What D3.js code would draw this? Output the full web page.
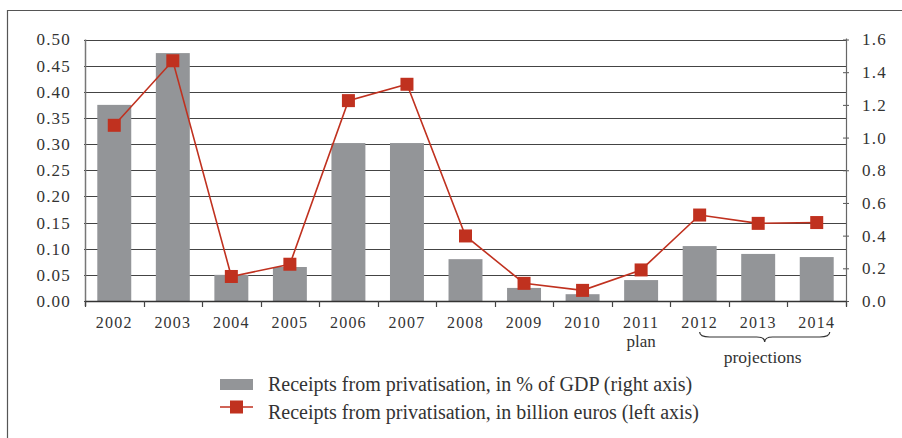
<!DOCTYPE html>
<html>
<head>
<meta charset="utf-8">
<script src="https://cdn.jsdelivr.net/npm/d3@7"></script>
<style>
  body { margin: 0; background: #fff; }
  text { font-family: "Liberation Serif", "DejaVu Serif", serif; fill: #333; }
</style>
</head>
<body>
<div id="chart-area"></div>
<script>
// Data
let years = ["2002", "2003", "2004", "2005", "2006", "2007", "2008", "2009", "2010", "2011", "2012", "2013", "2014"];
let pctGdp = [0.375, 0.474, 0.05, 0.065, 0.302, 0.302, 0.08, 0.025, 0.013, 0.04, 0.105, 0.09, 0.084];
let billionEur = [1.075, 1.47, 0.15, 0.225, 1.226, 1.326, 0.398, 0.108, 0.065, 0.19, 0.526, 0.475, 0.48];
let subLabels = { "2011": "plan" };
let projYears = ["2012", "2014"];
let leftTicks = [0, 0.05, 0.1, 0.15, 0.2, 0.25, 0.3, 0.35, 0.4, 0.45, 0.5];
let rightTicks = [0, 0.2, 0.4, 0.6, 0.8, 1.0, 1.2, 1.4, 1.6];
let legendLabels = [
  "Receipts from privatisation, in % of GDP (right axis)",
  "Receipts from privatisation, in billion euros (left axis)"
];

// SVG container
let W = 902, H = 438;
let margin = { top: 39.5, right: 56, bottom: 137, left: 85 };
let pLeft = margin.left, pRight = W - margin.right,
  pTop = margin.top, pBottom = H - margin.bottom;

let svg = d3
  .select("#chart-area")
  .append("svg")
  .attr("width", W)
  .attr("height", H);

// frame
svg.append("path")
  .attr("d", "M7.5," + H + "V10.5H" + W)
  .attr("fill", "none")
  .attr("stroke", "#555")
  .attr("stroke-width", 1.2);

// Scales
let x = d3.scaleBand()
  .domain(years)
  .range([pLeft, pRight])
  .paddingInner(0.42)
  .paddingOuter(0.21);

let yL = d3.scaleLinear().domain([0, 0.5]).range([pBottom, pTop]);
let yR = d3.scaleLinear().domain([0, 1.6]).range([pBottom, pTop]);

// Gridlines
svg.append("g")
  .selectAll("line")
  .data(leftTicks)
  .enter()
  .append("line")
  .attr("x1", pLeft - 1)
  .attr("x2", pRight)
  .attr("y1", d => Math.round(yL(d)) + 0.5)
  .attr("y2", d => Math.round(yL(d)) + 0.5)
  .attr("stroke", "#444")
  .attr("stroke-width", 1);

// Bars
svg.append("g")
  .selectAll("rect")
  .data(years)
  .enter()
  .append("rect")
  .attr("x", d => x(d))
  .attr("width", x.bandwidth())
  .attr("y", (d, i) => yL(pctGdp[i]))
  .attr("height", (d, i) => pBottom - yL(pctGdp[i]))
  .attr("fill", "#939598");

// Axes
let yAxisL = d3.axisLeft(yL).tickValues(leftTicks).tickSize(0).tickPadding(14)
  .tickFormat(d3.format(".2f"));
let yAxisR = d3.axisRight(yR).tickValues(rightTicks).tickSize(3).tickPadding(13)
  .tickFormat(d3.format(".1f"));

let gL = svg.append("g")
  .attr("transform", "translate(" + pLeft + ",0)")
  .call(yAxisL);
gL.select(".domain").remove();

let gR = svg.append("g")
  .attr("transform", "translate(" + pRight + ",0)")
  .call(yAxisR);
gR.select(".domain").remove();
gR.selectAll(".tick line").attr("x1", -3).attr("stroke", "#555");

[gL, gR].forEach(g => g.selectAll("text")
  .style("font-family", "Liberation Serif")
  .style("font-size", "17px")
  .style("letter-spacing", "1.2px")
  .attr("fill", "#333"));

// axis lines
svg.append("line")
  .attr("x1", pLeft + 0.5).attr("x2", pLeft + 0.5)
  .attr("y1", pTop).attr("y2", pBottom + 5)
  .attr("stroke", "#777").attr("stroke-width", 1.5);
svg.append("line")
  .attr("x1", pRight + 0.5).attr("x2", pRight + 0.5)
  .attr("y1", pTop - 1).attr("y2", pBottom + 5)
  .attr("stroke", "#666").attr("stroke-width", 1.2);
svg.append("line")
  .attr("x1", pLeft).attr("x2", pRight)
  .attr("y1", pBottom + 0.5).attr("y2", pBottom + 0.5)
  .attr("stroke", "#333").attr("stroke-width", 1.5);

// x ticks at band boundaries
let step = x.step();
let bounds = years.map(d => x(d) - step * x.paddingInner() / 2).concat([pRight]);
svg.append("g")
  .selectAll("line")
  .data(bounds)
  .enter()
  .append("line")
  .attr("x1", d => Math.round(d) + 0.5)
  .attr("x2", d => Math.round(d) + 0.5)
  .attr("y1", pBottom)
  .attr("y2", pBottom + 6)
  .attr("stroke", "#444")
  .attr("stroke-width", 1.2);

// x labels
let cx = d => x(d) + x.bandwidth() / 2;
svg.append("g")
  .selectAll("text")
  .data(years)
  .enter()
  .append("text")
  .attr("x", cx)
  .attr("y", pBottom + 27)
  .attr("text-anchor", "middle")
  .style("font-size", "16px")
  .style("letter-spacing", "1.2px")
  .text(d => d);

svg.append("g")
  .selectAll("text")
  .data(Object.keys(subLabels))
  .enter()
  .append("text")
  .attr("x", cx)
  .attr("y", pBottom + 46)
  .attr("text-anchor", "middle")
  .style("font-size", "17px")
  .text(d => subLabels[d]);

// projections brace
let bx0 = cx(projYears[0]), bx1 = cx(projYears[1]) + 13;
let bm = (bx0 + bx1) / 2, by = pBottom + 31;
svg.append("path")
  .attr("d",
    "M" + bx0 + "," + by +
    "Q" + bx0 + "," + (by + 5) + " " + (bx0 + 10) + "," + (by + 5) +
    "L" + (bm - 8) + "," + (by + 5) +
    "Q" + bm + "," + (by + 5) + " " + bm + "," + (by + 10) +
    "Q" + bm + "," + (by + 5) + " " + (bm + 8) + "," + (by + 5) +
    "L" + (bx1 - 10) + "," + (by + 5) +
    "Q" + bx1 + "," + (by + 5) + " " + bx1 + "," + by)
  .attr("fill", "none")
  .attr("stroke", "#333")
  .attr("stroke-width", 1.2);

svg.append("text")
  .attr("x", bm - 2)
  .attr("y", pBottom + 62)
  .attr("text-anchor", "middle")
  .style("font-size", "17.5px")
  .text("projections");

// Line series
let line = d3.line()
  .x(d => cx(d))
  .y((d, i) => yR(billionEur[i]));

svg.append("path")
  .datum(years)
  .attr("d", line)
  .attr("fill", "none")
  .attr("stroke", "#c0311f")
  .attr("stroke-width", 1.6);

let ms = 13;
svg.append("g")
  .selectAll("rect")
  .data(years)
  .enter()
  .append("rect")
  .attr("x", d => cx(d) - ms / 2)
  .attr("y", (d, i) => yR(billionEur[i]) - ms / 2)
  .attr("width", ms)
  .attr("height", ms)
  .attr("fill", "#c0311f");

// Legend
let lg = svg.append("g").attr("transform", "translate(220,0)");
lg.append("rect")
  .attr("x", 0).attr("y", 379)
  .attr("width", 33).attr("height", 11)
  .attr("fill", "#939598");
lg.append("line")
  .attr("x1", 0).attr("x2", 33)
  .attr("y1", 407).attr("y2", 407)
  .attr("stroke", "#c0311f").attr("stroke-width", 1.6);
lg.append("rect")
  .attr("x", 16.5 - ms / 2).attr("y", 407 - ms / 2)
  .attr("width", ms).attr("height", ms)
  .attr("fill", "#c0311f");
lg.selectAll("text.leg")
  .data(legendLabels)
  .enter()
  .append("text")
  .attr("class", "leg")
  .attr("x", 48)
  .attr("y", (d, i) => 391 + i * 28)
  .style("font-size", "20px")
  .text(d => d);
</script>
</body>
</html>
